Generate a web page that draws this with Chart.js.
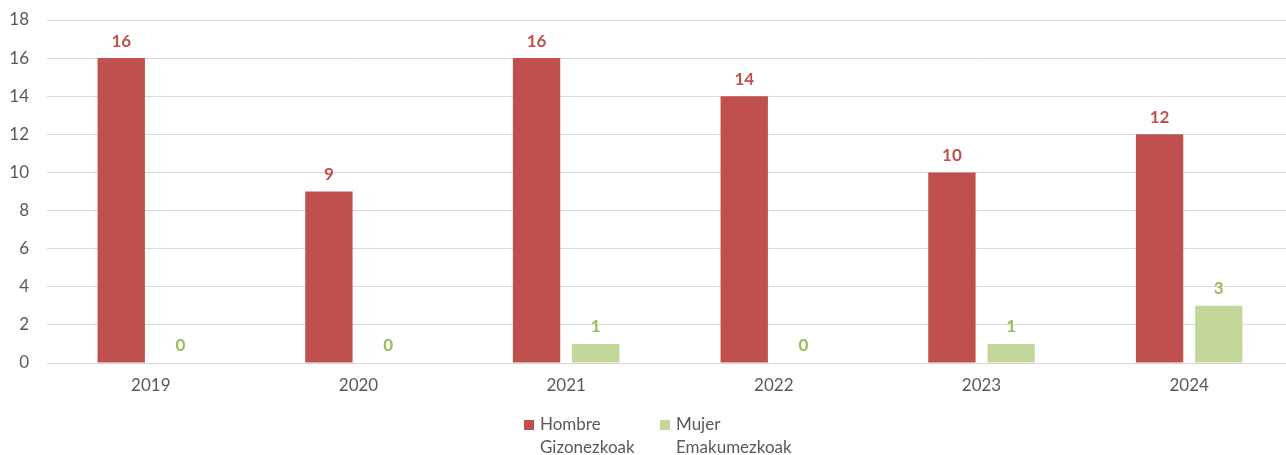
<!DOCTYPE html>
<html>
<head>
<meta charset="utf-8">
<script src="https://cdn.jsdelivr.net/npm/chart.js@4.4.1/dist/chart.umd.min.js"></script>
<style>
  html, body { margin: 0; padding: 0; background: #fff; overflow: hidden; }
  #wrap { width: 1293px; height: 455px; }
</style>
</head>
<body>
<div id="wrap"><canvas id="chart"></canvas></div>
<script>
// data
const years = ['2019', '2020', '2021', '2022', '2023', '2024'];
const hombre = [16, 9, 16, 14, 10, 12];
const mujer = [0, 0, 1, 0, 1, 3];
const yTicks = [0, 2, 4, 6, 8, 10, 12, 14, 16, 18];
const hombreLabel = ['Hombre', 'Gizonezkoak'];
const mujerLabel = ['Mujer', 'Emakumezkoak'];

const FONT = 'Lato, "Open Sans", sans-serif';

// value labels over each bar
const valueLabels = {
  id: 'valueLabels',
  afterDatasetsDraw(chart) {
    const ctx = chart.ctx;
    ctx.save();
    ctx.font = 'bold 17px ' + FONT;
    ctx.textAlign = 'center';
    ctx.textBaseline = 'middle';
    chart.data.datasets.forEach((ds, i) => {
      chart.getDatasetMeta(i).data.forEach((bar, j) => {
        ctx.fillStyle = ds.labelColor;
        ctx.fillText(ds.data[j], bar.x, bar.y - 17);
      });
    });
    ctx.restore();
  }
};

// two-line legend under the axis
const legendBelow = {
  id: 'legendBelow',
  afterDraw(chart) {
    const ctx = chart.ctx;
    ctx.save();
    ctx.font = '17px ' + FONT;
    ctx.textBaseline = 'middle';
    const starts = [524, 660];
    chart.data.datasets.forEach((ds, i) => {
      const x = starts[i];
      ctx.fillStyle = ds.backgroundColor;
      ctx.fillRect(x, 420, 10, 10);
      ctx.fillStyle = '#595959';
      ds.label.forEach((line, k) => {
        ctx.fillText(line, x + 16, 425 + k * 23);
      });
    });
    ctx.restore();
  }
};

new Chart(document.getElementById('chart'), {
  type: 'bar',
  data: {
    labels: years,
    datasets: [
      {
        label: hombreLabel,
        data: hombre,
        backgroundColor: '#C0504D',
        labelColor: '#C0504D'
      },
      {
        label: mujerLabel,
        data: mujer,
        backgroundColor: '#C4D79B',
        labelColor: '#9BBB59'
      }
    ]
  },
  options: {
    responsive: true,
    maintainAspectRatio: false,
    animation: false,
    categoryPercentage: 0.57,
    barPercentage: 0.8,
    layout: { padding: { top: 20, right: 0, left: 0, bottom: 0 } },
    plugins: {
      legend: { display: false },
      tooltip: { enabled: false }
    },
    scales: {
      x: {
        grid: { display: false, drawTicks: false },
        border: { display: false },
        ticks: { color: '#595959', font: { family: FONT, size: 17 }, padding: 12 },
        afterFit(scale) {
          scale.height = 92;
          scale.paddingLeft = 0;
          scale.paddingRight = 0;
        }
      },
      y: {
        min: 0,
        max: 18,
        afterBuildTicks(scale) { scale.ticks = yTicks.map(v => ({ value: v })); },
        grid: { color: '#D9D9D9', drawTicks: false },
        border: { display: false },
        ticks: { color: '#595959', font: { family: FONT, size: 17 }, padding: 18 },
        afterFit(scale) {
          scale.width = 47;
          scale.paddingTop = 0;
          scale.paddingBottom = 0;
        }
      }
    }
  },
  plugins: [valueLabels, legendBelow]
});
</script>
</body>
</html>
